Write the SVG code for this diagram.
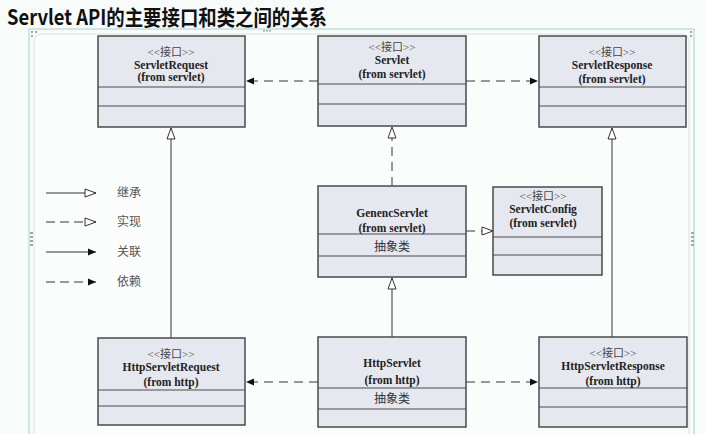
<svg xmlns="http://www.w3.org/2000/svg" width="705" height="434" viewBox="0 0 705 434">
<style>
.box{fill:#e6e8ef;stroke:#4a4a4a;stroke-width:1.5}
.div{stroke:#4a4a4a;stroke-width:1.2}
.st{font-family:"Liberation Serif","Noto Sans CJK SC",serif;font-size:11px;fill:#444;text-anchor:middle}
.nm{font-family:"Liberation Serif","Noto Sans CJK SC",serif;font-size:11.5px;font-weight:bold;fill:#222;text-anchor:middle}
.cn{font-family:"Noto Sans CJK SC",sans-serif;font-size:12px;fill:#333;text-anchor:middle}
.lg{font-family:"Noto Sans CJK SC",sans-serif;font-size:12px;fill:#555}
.ln{stroke:#333;stroke-width:1;fill:none}
.dash{stroke-dasharray:9,6}
</style>
<defs>
<marker id="tri" markerUnits="userSpaceOnUse" markerWidth="14" markerHeight="12" refX="12" refY="5" orient="auto">
<path d="M1,1 L12,5 L1,9 z" fill="#fff" stroke="#333" stroke-width="1"/>
</marker>
<marker id="arr" markerUnits="userSpaceOnUse" markerWidth="10" markerHeight="10" refX="8" refY="4" orient="auto">
<path d="M0,0.5 L8,4 L0,7.5 z" fill="#111"/>
</marker>
</defs>
<rect width="705" height="434" fill="#f7fbf9"/>
<text x="7" y="25" font-family="'Noto Sans CJK SC',sans-serif" font-size="21" font-weight="bold" fill="#111" textLength="320" lengthAdjust="spacingAndGlyphs">Servlet API的主要接口和类之间的关系</text>
<rect x="29" y="29" width="665" height="420" fill="none" stroke="#c6dede" stroke-width="1.5"/>
<rect x="34" y="34" width="655" height="415" rx="8" fill="#fbfdfc" stroke="#d5e4e4" stroke-width="1"/>
<g fill="#9aa" >
<rect x="31" y="31" width="2" height="2"/><rect x="35" y="31" width="2" height="2"/><rect x="31" y="35" width="2" height="2"/>
<rect x="690" y="31" width="2" height="2"/><rect x="690" y="35" width="2" height="2"/>
<rect x="30" y="232" width="3" height="2"/><rect x="30" y="236" width="3" height="2"/><rect x="30" y="240" width="3" height="2"/><rect x="30" y="244" width="3" height="2"/>
<rect x="691" y="232" width="3" height="2"/><rect x="691" y="236" width="3" height="2"/><rect x="691" y="240" width="3" height="2"/><rect x="691" y="244" width="3" height="2"/>
<rect x="263" y="30" width="2" height="1.5"/><rect x="266" y="30" width="2" height="1.5"/><rect x="269" y="30" width="2" height="1.5"/>
</g>

<g id="connectors">
<line class="ln dash" x1="318" y1="81" x2="246" y2="81" marker-end="url(#arr)"/>
<line class="ln dash" x1="466" y1="81" x2="538" y2="81" marker-end="url(#arr)"/>
<line class="ln dash" x1="392" y1="186" x2="392" y2="127" marker-end="url(#tri)"/>
<line class="ln dash" x1="466" y1="231" x2="493" y2="231" marker-end="url(#tri)"/>
<line class="ln" x1="392" y1="337" x2="392" y2="278" marker-end="url(#tri)"/>
<line class="ln" x1="171" y1="338" x2="171" y2="128" marker-end="url(#tri)"/>
<line class="ln" x1="612" y1="337" x2="612" y2="128" marker-end="url(#tri)"/>
<line class="ln dash" x1="318" y1="382" x2="246" y2="382" marker-end="url(#arr)"/>
<line class="ln dash" x1="466" y1="382" x2="538" y2="382" marker-end="url(#arr)"/>
</g>

<g id="legend">
<line class="ln" x1="46" y1="193" x2="96" y2="193" marker-end="url(#tri)"/>
<line class="ln" x1="46" y1="222" x2="96" y2="222" marker-end="url(#tri)" stroke-dasharray="9,5"/>
<line class="ln" x1="46" y1="252" x2="96" y2="252" marker-end="url(#arr)"/>
<line class="ln" x1="46" y1="282" x2="96" y2="282" marker-end="url(#arr)" stroke-dasharray="9,5"/>
<text class="lg" x="117" y="197">继承</text>
<text class="lg" x="117" y="226">实现</text>
<text class="lg" x="117" y="256">关联</text>
<text class="lg" x="117" y="286">依赖</text>
</g>

<g id="ServletRequest">
<rect class="box" x="98" y="36" width="147" height="91"/>
<line class="div" x1="98" y1="87" x2="245" y2="87"/>
<line class="div" x1="98" y1="106" x2="245" y2="106"/>
<text class="st" x="171" y="56">&lt;&lt;接口&gt;&gt;</text>
<text class="nm" x="171" y="69">ServletRequest</text>
<text class="nm" x="171" y="81">(from servlet)</text>
</g>

<g id="Servlet">
<rect class="box" x="318" y="36" width="148" height="90"/>
<line class="div" x1="318" y1="84" x2="466" y2="84"/>
<line class="div" x1="318" y1="104" x2="466" y2="104"/>
<text class="st" x="392" y="51">&lt;&lt;接口&gt;&gt;</text>
<text class="nm" x="392" y="64">Servlet</text>
<text class="nm" x="392" y="78">(from servlet)</text>
</g>

<g id="ServletResponse">
<rect class="box" x="539" y="36" width="147" height="91"/>
<line class="div" x1="539" y1="87" x2="686" y2="87"/>
<line class="div" x1="539" y1="106" x2="686" y2="106"/>
<text class="st" x="612" y="56">&lt;&lt;接口&gt;&gt;</text>
<text class="nm" x="612" y="69">ServletResponse</text>
<text class="nm" x="612" y="83">(from servlet)</text>
</g>

<g id="GenericServlet">
<rect class="box" x="318" y="186" width="148" height="91"/>
<line class="div" x1="318" y1="234" x2="466" y2="234"/>
<line class="div" x1="318" y1="256" x2="466" y2="256"/>
<text class="nm" x="392" y="217">GenencServlet</text>
<text class="nm" x="392" y="232">(from servlet)</text>
<text class="cn" x="392" y="251">抽象类</text>
</g>

<g id="ServletConfig">
<rect class="box" x="493" y="187" width="109" height="88"/>
<line class="div" x1="493" y1="237" x2="602" y2="237"/>
<line class="div" x1="493" y1="255" x2="602" y2="255"/>
<text class="st" x="543" y="200">&lt;&lt;接口&gt;&gt;</text>
<text class="nm" x="543" y="213">ServletConfig</text>
<text class="nm" x="543" y="227">(from servlet)</text>
</g>

<g id="HttpServletRequest">
<rect class="box" x="98" y="338" width="147" height="87"/>
<line class="div" x1="98" y1="390" x2="245" y2="390"/>
<line class="div" x1="98" y1="406" x2="245" y2="406"/>
<text class="st" x="171" y="358">&lt;&lt;接口&gt;&gt;</text>
<text class="nm" x="171" y="371">HttpServletRequest</text>
<text class="nm" x="171" y="386">(from http)</text>
</g>

<g id="HttpServlet">
<rect class="box" x="318" y="337" width="148" height="90"/>
<line class="div" x1="318" y1="388" x2="466" y2="388"/>
<line class="div" x1="318" y1="409" x2="466" y2="409"/>
<text class="nm" x="392" y="367">HttpServlet</text>
<text class="nm" x="392" y="384">(from http)</text>
<text class="cn" x="392" y="403">抽象类</text>
</g>

<g id="HttpServletResponse">
<rect class="box" x="539" y="337" width="148" height="90"/>
<line class="div" x1="539" y1="388" x2="687" y2="388"/>
<line class="div" x1="539" y1="407" x2="687" y2="407"/>
<text class="st" x="613" y="357">&lt;&lt;接口&gt;&gt;</text>
<text class="nm" x="613" y="370">HttpServletResponse</text>
<text class="nm" x="613" y="385">(from http)</text>
</g>
</svg>
